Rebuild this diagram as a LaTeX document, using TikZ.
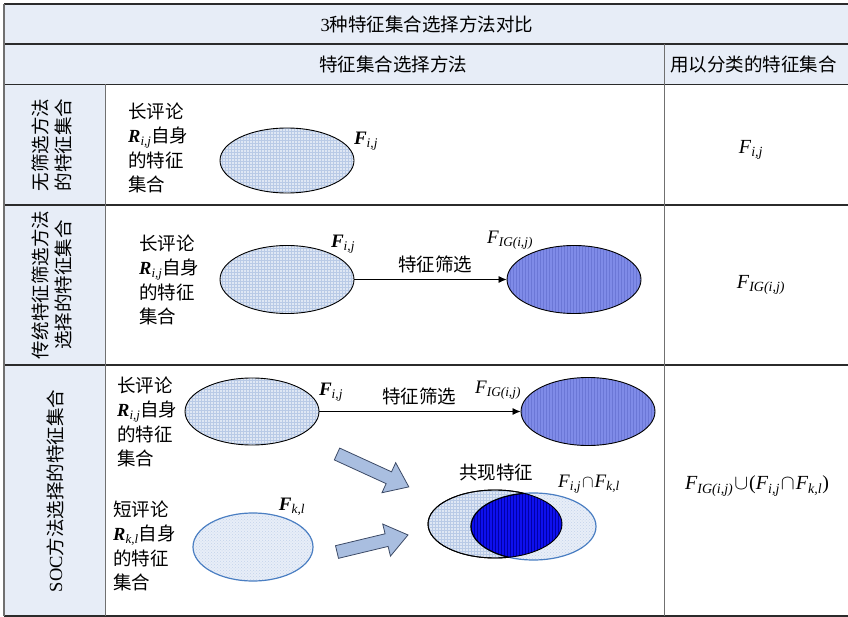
\documentclass[tikz,border=0pt]{standalone}
\usepackage{fontspec}
\setmainfont{Liberation Serif}
\newfontfamily\lat{Liberation Serif}
\newfontfamily\cjk{Noto Sans CJK SC}
\usetikzlibrary{shapes.geometric,patterns,arrows.meta}
\definecolor{hdr}{HTML}{E7EDF7}
\definecolor{paleA}{HTML}{DFE7F4}
\definecolor{gridA}{HTML}{B9CAE6}
\definecolor{paleB}{HTML}{E8EEF8}
\definecolor{dotB}{HTML}{C3D2EA}
\definecolor{igfill}{HTML}{7F8BE8}
\definecolor{igline}{HTML}{6B77D6}
\definecolor{deep}{HTML}{0E10EE}
\definecolor{deepline}{HTML}{0000A8}
\definecolor{blueedge}{HTML}{4A7EC2}
\definecolor{blockfill}{HTML}{A9BEE0}
\definecolor{blockedge}{HTML}{3C4A66}
\definecolor{hcol}{HTML}{2B2B2B}
\definecolor{vcol}{HTML}{707070}
\newcommand\FF[1]{{\lat\textit{F}\textsubscript{\textit{#1}}}}
\newcommand\FB[1]{{\lat\textbf{\textit{F}}\textsubscript{\textit{#1}}}}
\newcommand\RR[1]{{\lat\textbf{\textit{R}}\textsubscript{\textit{#1}}}}
\newcommand\capop{\kern1pt$\cap$\kern1pt}
\newcommand\cupop{\kern1pt$\cup$\kern1pt}
\tikzset{
  hline/.style={draw=hcol, line width=1.6pt},
  vline/.style={draw=vcol, line width=1.5pt},
  cjkt/.style={font=\fontsize{18.5}{23}\selectfont\cjk, inner sep=0pt},
  rowlab/.style={font=\fontsize{18.5}{23}\selectfont\cjk, inner sep=0pt, rotate=90, align=center},
  blk/.style={font=\fontsize{18.5}{24.5}\selectfont\cjk, inner sep=0pt, align=left, anchor=west},
  mlab/.style={font=\fontsize{19}{23}\selectfont\lat, inner sep=0pt},
  rlab/.style={font=\fontsize{20}{24}\selectfont\lat, inner sep=0pt},
  ellgrid/.style={ellipse, draw=black, line width=0.9pt, inner sep=0pt, preaction={fill=paleA}, pattern=grid, pattern color=gridA},
  elldot/.style={ellipse, draw=blueedge, line width=1.2pt, inner sep=0pt, preaction={fill=paleB}, pattern=crosshatch dots, pattern color=dotB},
  ellig/.style={ellipse, draw=black, line width=0.9pt, inner sep=0pt, preaction={fill=igfill}, pattern=vertical lines, pattern color=igline},
  filt/.style={draw=black, line width=0.8pt, -{Latex[length=8pt,width=7pt]}},
  blockarrow/.style={fill=blockfill, draw=blockedge, line width=0.8pt, line join=miter}
}
\begin{document}
\begin{tikzpicture}[x=1pt,y=-1pt]
\useasboundingbox (0,0) rectangle (848,617);
% backgrounds
\fill[hdr] (4,4) rectangle (848,84.5);
\fill[hdr] (4,84.5) rectangle (105.5,616);
% grid lines
\draw[hline] (4,4) -- (848,4);
\draw[hline] (4,44) -- (848,44);
\draw[hline] (4,84.5) -- (848,84.5);
\draw[hline] (4,205) -- (848,205);
\draw[hline] (4,365) -- (848,365);
\draw[hline] (4,616) -- (848,616);
\draw[vline] (4,4) -- (4,616);
\draw[vline] (105.5,84.5) -- (105.5,616);
\draw[vline] (664.5,44) -- (664.5,616);
% headers
\node[cjkt] (title) at (427,24) {{\lat 3}种特征集合选择方法对比};
\node[cjkt] (hmeth) at (393,64.5) {特征集合选择方法};
\node[cjkt, anchor=west] (hset) at (670,64.5) {用以分类的特征集合};
% row labels
\node[rowlab] (labA) at (52,145) {无筛选方法\\的特征集合};
\node[rowlab] (labB) at (52,285) {传统特征筛选方法\\选择的特征集合};
\node[rowlab] (labC) at (55,491) {{\lat SOC}方法选择的特征集合};
% row A
\node[blk] (txtA) at (128,148) {长评论\\\RR{i,j}自身\\的特征\\集合};
\node[ellgrid, minimum width=134pt, minimum height=65pt] (eA) at (287,160.5) {};
\node[mlab] (fA) at (366,141) {\FB{i,j}};
\node[rlab] (rA) at (751,150) {\FF{i,j}};
% row B
\node[blk] (txtB) at (139,280) {长评论\\\RR{i,j}自身\\的特征\\集合};
\node[ellgrid, minimum width=134pt, minimum height=68pt] (eB) at (287,279.5) {};
\node[ellig, minimum width=134pt, minimum height=68pt] (eBig) at (574,279.5) {};
\draw[filt] (eB.east) -- (eBig.west);
\node[cjkt] (filtB) at (435,264) {特征筛选};
\node[mlab] (fB) at (343,244) {\FB{i,j}};
\node[mlab] (fBig) at (510,240) {\FF{IG(i,j)}};
\node[rlab] (rB) at (761,285) {\FF{IG(i,j)}};
% row C
\node[blk] (txtC1) at (117,422) {长评论\\\RR{i,j}自身\\的特征\\集合};
\node[blk] (txtC2) at (113,546) {短评论\\\RR{k,l}自身\\的特征\\集合};
\node[ellgrid, minimum width=134pt, minimum height=67pt] (eC) at (252,411.5) {};
\node[ellig, minimum width=134pt, minimum height=68pt] (eCig) at (588,411.5) {};
\draw[filt] (eC.east) -- (eCig.west);
\node[cjkt] (filtC) at (419,396) {特征筛选};
\node[mlab] (fC) at (331,392) {\FB{i,j}};
\node[mlab] (fCig) at (498,390) {\FF{IG(i,j)}};
\node[elldot, minimum width=120pt, minimum height=68pt] (eK) at (253,547) {};
\node[mlab] (fK) at (292,507) {\FB{k,l}};
% block arrows
\begin{scope}[shift={(337,454)}, rotate=-24.6]
  \draw[blockarrow] (0,6.5) -- (57,6.5) -- (57,16.5) -- (79,0) -- (57,-16.5) -- (57,-6.5) -- (0,-6.5) -- cycle;
\end{scope}
\begin{scope}[shift={(337,552)}, rotate=13.5]
  \draw[blockarrow] (0,6.5) -- (51,6.5) -- (51,16.5) -- (73,0) -- (51,-16.5) -- (51,-6.5) -- (0,-6.5) -- cycle;
\end{scope}
% co-occurrence
\node[ellgrid, minimum width=134pt, minimum height=68pt] (oA) at (495,524) {};
\node[elldot, minimum width=125pt, minimum height=67pt] (oB) at (533.5,526.5) {};
\begin{scope}
  \clip (495,524) ellipse [x radius=67, y radius=34];
  \fill[deep] (533.5,526.5) ellipse [x radius=62.5, y radius=33.5];
  \pattern[pattern=vertical lines, pattern color=deepline] (533.5,526.5) ellipse [x radius=62.5, y radius=33.5];
  \draw[black, line width=1.2pt] (533.5,526.5) ellipse [x radius=62.5, y radius=33.5];
\end{scope}
\draw[black, line width=0.9pt] (oA.center) ellipse [x radius=67, y radius=34];
\node[cjkt] (cooc) at (496,472) {共现特征};
\node[mlab] (fInt) at (589,484) {\FF{i,j}\capop\FF{k,l}};
\node[rlab] (rC) at (757,486) {\FF{IG(i,j)}\cupop(\FF{i,j}\capop\FF{k,l})};
\end{tikzpicture}
\end{document}
